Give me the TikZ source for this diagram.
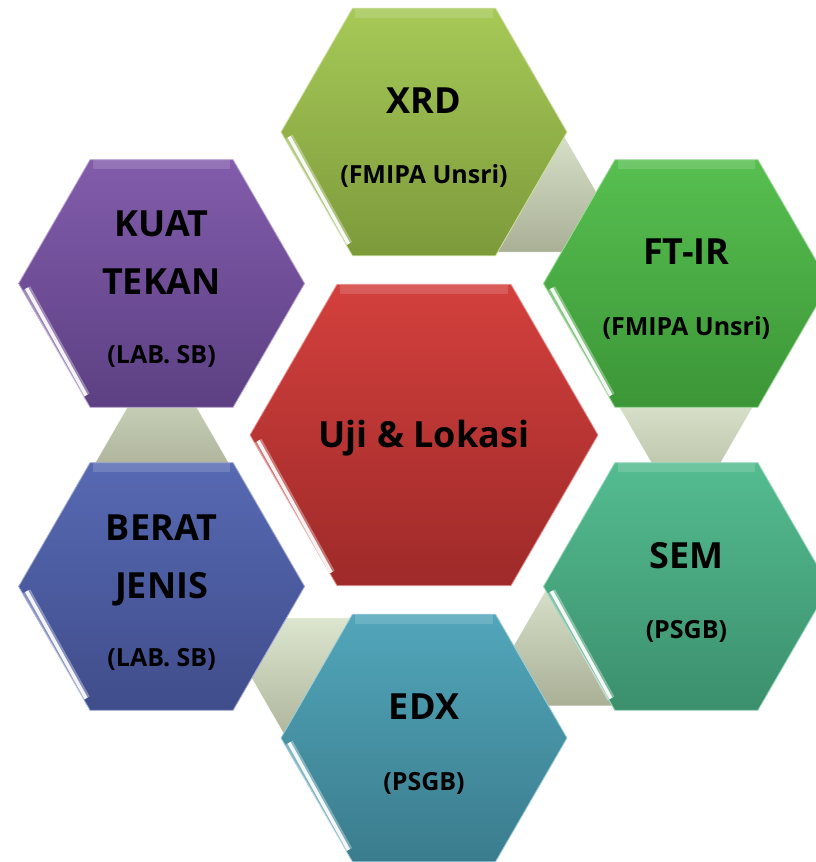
\documentclass[tikz,border=0pt]{standalone}
\usepackage{fontspec}
\setmainfont{Open Sans}
\usepackage{xcolor}
\usetikzlibrary{shapes.geometric, calc}

\definecolor{ctrTop}{HTML}{D3403D}
\definecolor{ctrBot}{HTML}{9E2A29}
\definecolor{xrdTop}{HTML}{A6C957}
\definecolor{xrdBot}{HTML}{7D9A3B}
\definecolor{ftirTop}{HTML}{57BF50}
\definecolor{ftirBot}{HTML}{3C9637}
\definecolor{semTop}{HTML}{54BC90}
\definecolor{semBot}{HTML}{3B8F6D}
\definecolor{edxTop}{HTML}{52A6BA}
\definecolor{edxBot}{HTML}{3A7C8D}
\definecolor{beratTop}{HTML}{5769B3}
\definecolor{beratBot}{HTML}{404D8B}
\definecolor{kuatTop}{HTML}{825CAB}
\definecolor{kuatBot}{HTML}{5C4083}
\definecolor{gapTop}{HTML}{DCE5CE}
\definecolor{gapBot}{HTML}{A9B096}

\begin{document}
\begin{tikzpicture}[
    x=1pt, y=1pt,
    hexmain/.style={regular polygon, regular polygon sides=6, inner sep=0pt, minimum size=348pt, line width=0.8pt},
    hexring/.style={hexmain, minimum size=286pt},
    gapup/.style={regular polygon, regular polygon sides=3, inner sep=0pt, minimum size=176pt, top color=gapTop, bottom color=gapBot, draw=white, line width=0.5pt},
    gapdown/.style={gapup, shape border rotate=180},
    ttl/.style={font=\fontsize{36}{40}\selectfont\bfseries, anchor=base},
    loc/.style={font=\fontsize{25}{28}\selectfont\bfseries, anchor=base},
    shine/.style={white, line width=8pt, opacity=0.35},
    shinecore/.style={white, line width=3.5pt, opacity=0.9},
    bevel/.style={white, line width=9pt, opacity=0.15}
]
\useasboundingbox (-424,-427) rectangle (392,435);
\clip (-424,-427) rectangle (392,435);

% Gaps between the outer hexagons
\node[gapup] (gXF) at (60:262) {};
\node[gapdown] (gFS) at (0:262) {};
\node[gapup] (gSE) at (-60:262) {};
\node[gapdown] (gEB) at (-120:262) {};
\node[gapup] (gBK) at (180:262) {};

% Centre and ring of hexagons
\node[hexmain, top color=ctrTop, bottom color=ctrBot, draw=ctrTop!55!white] (ctr) at (0,0) {};
\node[hexring, top color=xrdTop, bottom color=xrdBot, draw=xrdTop!55!white] (xrd) at (90:303) {};
\node[hexring, top color=ftirTop, bottom color=ftirBot, draw=ftirTop!55!white] (ftir) at (30:303) {};
\node[hexring, top color=semTop, bottom color=semBot, draw=semTop!55!white] (sem) at (-30:303) {};
\node[hexring, top color=edxTop, bottom color=edxBot, draw=edxTop!55!white] (edx) at (-90:303) {};
\node[hexring, top color=beratTop, bottom color=beratBot, draw=beratTop!55!white] (berat) at (-150:303) {};
\node[hexring, top color=kuatTop, bottom color=kuatBot, draw=kuatTop!55!white] (kuat) at (150:303) {};

% Bevel and highlight
\foreach \h/\r in {ctr/174, xrd/143, ftir/143, sem/143, edx/143, berat/143, kuat/143} {
    \draw[bevel] ($(\h.center)+(120:\r-6)$) -- ($(\h.center)+(60:\r-6)$);
    \draw[shine] ($(\h.center)+(182:\r-8)$) -- ($(\h.center)+(236:\r-8)$);
    \draw[shinecore] ($(\h.center)+(182:\r-8)$) -- ($(\h.center)+(236:\r-8)$);
}

% Labels
\node[ttl] (ctrT) at ($(ctr.center)+(0,-12.5)$) {Uji \& Lokasi};
\node[ttl] (xrdT) at ($(xrd.center)+(0,18.5)$) {XRD};
\node[loc] (xrdL) at ($(xrd.center)+(0,-52)$) {(FMIPA Unsri)};
\node[ttl] (ftirT) at ($(ftir.center)+(0,18.5)$) {FT-IR};
\node[loc] (ftirL) at ($(ftir.center)+(0,-52)$) {(FMIPA Unsri)};
\node[ttl] (semT) at ($(sem.center)+(0,18.5)$) {SEM};
\node[loc] (semL) at ($(sem.center)+(0,-52)$) {(PSGB)};
\node[ttl] (edxT) at ($(edx.center)+(0,18.5)$) {EDX};
\node[loc] (edxL) at ($(edx.center)+(0,-52)$) {(PSGB)};
\node[ttl] (beratT) at ($(berat.center)+(0,46.5)$) {BERAT};
\node[ttl] (beratU) at ($(berat.center)+(0,-11.5)$) {JENIS};
\node[loc] (beratL) at ($(berat.center)+(0,-80)$) {(LAB. SB)};
\node[ttl] (kuatT) at ($(kuat.center)+(0,46.5)$) {KUAT};
\node[ttl] (kuatU) at ($(kuat.center)+(0,-11.5)$) {TEKAN};
\node[loc] (kuatL) at ($(kuat.center)+(0,-80)$) {(LAB. SB)};

\end{tikzpicture}
\end{document}
